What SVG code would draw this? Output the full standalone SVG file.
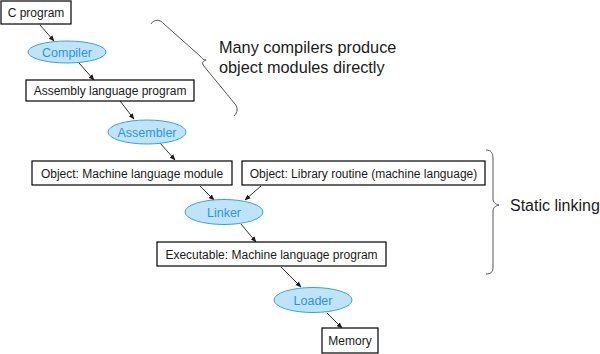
<svg xmlns="http://www.w3.org/2000/svg" width="600" height="354" viewBox="0 0 600 354">
<style>
.box{fill:#fff;stroke:#000;stroke-width:1.2}
.ell{fill:#bfe4f8;stroke:#3c9fdc;stroke-width:1}
.t{font-family:"Liberation Sans",Arial,sans-serif;font-size:12px;fill:#1a1a1a;text-anchor:middle}
.et{font-family:"Liberation Sans",Arial,sans-serif;font-size:12.5px;fill:#2a96d8;text-anchor:middle}
.big{font-family:"Liberation Sans",Arial,sans-serif;font-size:16.3px;fill:#1a1a1a}
.c{stroke:#1a1a1a;stroke-width:0.9;fill:none;marker-end:url(#ah)}
.br{stroke:#555;stroke-width:1;fill:none}
</style>
<defs>
<marker id="ah" viewBox="0 0 10 10" refX="9" refY="5" markerWidth="6" markerHeight="6" orient="auto" markerUnits="userSpaceOnUse">
<path d="M0,1 L10,5 L0,9 z" fill="#1a1a1a"/>
</marker>
</defs>
<g id="connectors">
<line class="c" x1="40" y1="25" x2="54" y2="41"/>
<line class="c" x1="79" y1="63" x2="94" y2="80"/>
<line class="c" x1="120" y1="101" x2="134" y2="119"/>
<line class="c" x1="160" y1="143" x2="175" y2="160"/>
<line class="c" x1="200" y1="186" x2="214" y2="200"/>
<line class="c" x1="261" y1="186" x2="245" y2="200"/>
<line class="c" x1="241" y1="224" x2="256" y2="242"/>
<line class="c" x1="281" y1="267" x2="301" y2="287"/>
<line class="c" x1="327" y1="313" x2="342" y2="328"/>
</g>
<g id="c_program"><rect class="box" x="1" y="1" width="70" height="23"/><text class="t" x="36" y="17">C program</text></g>
<g id="compiler"><ellipse class="ell" cx="67" cy="52" rx="39" ry="11"/><text class="et" x="67" y="56.5">Compiler</text></g>
<g id="assembly"><rect class="box" x="26" y="80" width="168" height="21"/><text class="t" x="110" y="95">Assembly language program</text></g>
<g id="assembler"><ellipse class="ell" cx="147" cy="132" rx="39" ry="12"/><text class="et" x="147" y="136.5">Assembler</text></g>
<g id="object_module"><rect class="box" x="32" y="161" width="200" height="24"/><text class="t" x="132" y="177.5">Object: Machine language module</text></g>
<g id="library"><rect class="box" x="242" y="161" width="243" height="24"/><text class="t" x="363.5" y="177.5">Object: Library routine (machine language)</text></g>
<g id="linker"><ellipse class="ell" cx="224" cy="212" rx="39" ry="12.5"/><text class="et" x="224" y="216.5">Linker</text></g>
<g id="executable"><rect class="box" x="157" y="242" width="229" height="24"/><text class="t" x="271.5" y="258.5">Executable: Machine language program</text></g>
<g id="loader"><ellipse class="ell" cx="313" cy="300" rx="39" ry="12.5"/><text class="et" x="313" y="304.5">Loader</text></g>
<g id="memory"><rect class="box" x="322" y="328" width="56" height="25"/><text class="t" x="350" y="345">Memory</text></g>
<g id="brace_compilers">
<path class="br" d="M151,24 C154,19 160,19 164,24 L200,56 C202,58 203,60 206,60 C203,61 202,62 203,65 L235,104 C238,108 238,112 234,116"/>
<text class="big" x="219" y="52.5">Many compilers produce</text>
<text class="big" x="219" y="72.5">object modules directly</text>
</g>
<g id="brace_static">
<path class="br" d="M486,150 C491,150 493,153 493,158 L493,199 C493,202 495,204 499,205 C495,206 493,208 493,211 L493,267 C493,272 491,274 486,274"/>
<text class="big" style="font-size:16px" x="510" y="211">Static linking</text>
</g>
</svg>
